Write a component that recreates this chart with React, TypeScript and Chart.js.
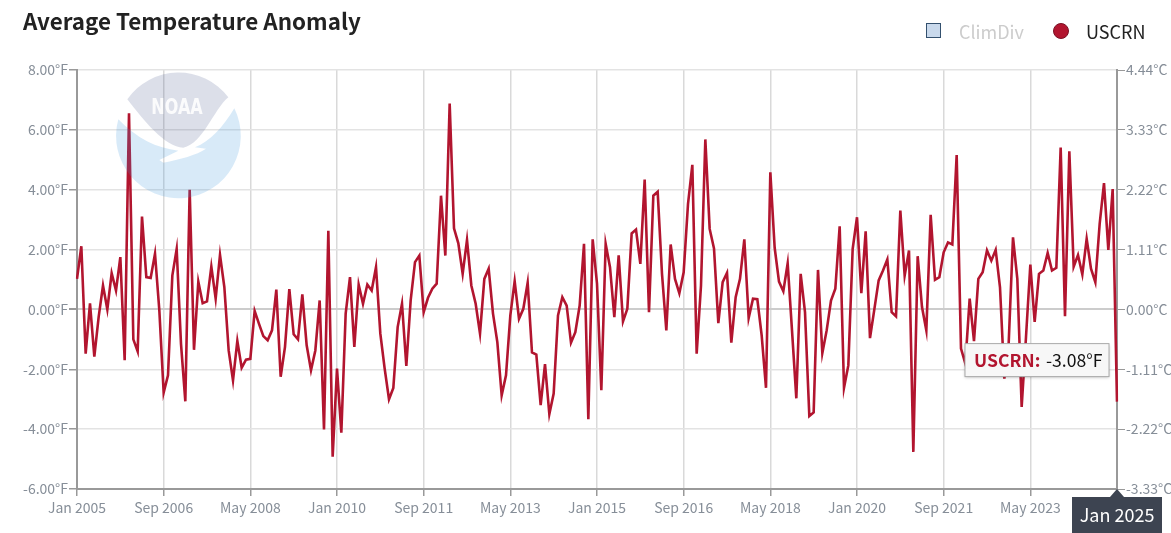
import { useEffect, useRef } from "react"
import { Chart, registerables } from "chart.js"

Chart.register(...registerables)

const FONT = '"Noto Sans CJK SC", "Noto Sans", sans-serif'
const months = ["Jan", "Feb", "Mar", "Apr", "May", "Jun", "Jul", "Aug", "Sep", "Oct", "Nov", "Dec"]
const years = [2005, 2006, 2007, 2008, 2009, 2010, 2011, 2012, 2013, 2014, 2015, 2016, 2017, 2018, 2019, 2020, 2021, 2022, 2023, 2024]
const categories = [...years.flatMap((y) => months.map((m) => `${m} ${y}`)), "Jan 2025"]

const uscrn = [
  1.02, 2.11, -1.48, 0.2, -1.58, -0.25, 0.8, 0.0, 1.21, 0.63, 1.75, -1.7,
  6.55, -1.0, -1.4, 3.1, 1.08, 1.05, 1.86, -0.03, -2.78, -2.2, 1.13, 2.02,
  -1.15, -3.07, 4.0, -1.35, 0.93, 0.21, 0.27, 1.43, 0.36, 1.82, 0.75, -1.37,
  -2.37, -1.05, -1.95, -1.68, -1.65, -0.05, -0.48, -0.89, -1.03, -0.7, 0.66, -2.25,
  -1.25, 0.68, -0.83, -1.0, 0.5, -1.2, -2.03, -1.37, 0.3, -4.01, 2.63, -4.92,
  -1.98, -4.12, -0.14, 1.08, -1.25, 0.83, 0.19, 0.83, 0.63, 1.41, -0.81, -1.98,
  -3.0, -2.62, -0.59, 0.19, -1.89, 0.3, 1.58, 1.8, -0.09, 0.39, 0.69, 0.86,
  3.8, 1.8, 6.88, 2.71, 2.21, 1.19, 2.32, 0.8, 0.19, -0.81, 1.02, 1.36,
  -0.14, -1.09, -2.87, -2.2, -0.2, 0.94, -0.31, 0.02, 0.89, -1.44, -1.51, -3.2,
  -1.83, -3.5, -2.81, -0.2, 0.41, 0.13, -1.11, -0.76, 0.13, 2.19, -3.67, 2.34,
  0.86, -2.7, 2.19, 1.41, -0.26, 1.81, -0.4, 0.02, 2.54, 2.67, 1.52, 4.34,
  -0.09, 3.8, 3.93, 1.19, -0.7, 2.17, 1.02, 0.54, 1.24, 3.52, 4.83, -1.48,
  0.8, 5.68, 2.69, 2.04, -0.46, 0.91, 1.22, -1.11, 0.41, 1.02, 2.34, -0.29,
  0.36, 0.34, -0.87, -2.62, 4.58, 2.06, 0.93, 0.61, 1.54, -0.7, -2.97, 1.19,
  -0.09, -3.56, -3.44, 1.32, -1.46, -0.7, 0.3, 0.69, 2.78, -2.62, -1.87, 2.02,
  3.08, 0.54, 2.61, -0.96, 0.0, 0.97, 1.3, 1.67, -0.09, -0.23, 3.3, 1.13,
  1.97, -4.76, 1.78, 0.08, -0.7, 3.16, 0.99, 1.08, 1.91, 2.24, 2.17, 5.16,
  -1.31, -1.81, 0.36, -1.06, 1.02, 1.24, 1.97, 1.63, 1.99, 0.74, -2.31, -1.14,
  2.41, 1.02, -3.26, -0.92, 1.5, -0.42, 1.19, 1.3, 1.89, 1.3, 1.39, 5.41,
  -0.23, 5.28, 1.43, 1.82, 1.17, 2.36, 1.36, 0.91, 2.86, 4.22, 1.99, 4.02, -3.08,
]

const RED = "#b2152f"
const AXIS = "#999999"
const LABEL = "#868e98"

// hover-style readout for the last month, placed from the scales
const readout = {
  id: "readout",
  afterDraw(chart: Chart) {
    const { ctx, scales } = chart
    const i = uscrn.length - 1
    const px = scales.x.getPixelForValue(i)
    const py = scales.y.getPixelForValue(uscrn[i])
    ctx.save()

    // x axis label
    const bottom = scales.y.bottom
    ctx.fillStyle = "#3d4451"
    ctx.beginPath()
    ctx.moveTo(px, bottom)
    ctx.lineTo(px + 7, bottom + 8)
    ctx.lineTo(px + 45, bottom + 8)
    ctx.lineTo(px + 45, chart.height)
    ctx.lineTo(px - 45, chart.height)
    ctx.lineTo(px - 45, bottom + 8)
    ctx.lineTo(px - 7, bottom + 8)
    ctx.closePath()
    ctx.fill()
    ctx.fillStyle = "#ffffff"
    ctx.font = `18px ${FONT}`
    ctx.textAlign = "center"
    ctx.textBaseline = "middle"
    ctx.fillText(categories[i], px, bottom + 26)

    // tooltip box
    const bx = px - 152
    const by = py - 58
    ctx.shadowColor = "rgba(0,0,0,0.25)"
    ctx.shadowBlur = 3
    ctx.shadowOffsetY = 1
    ctx.fillStyle = "#f7f7f7"
    ctx.fillRect(bx, by, 144, 33)
    ctx.shadowColor = "transparent"
    ctx.strokeStyle = "#aaaaaa"
    ctx.lineWidth = 1
    ctx.strokeRect(bx, by, 144, 33)

    ctx.textAlign = "left"
    ctx.fillStyle = RED
    ctx.font = `bold 17.6px ${FONT}`
    ctx.fillText("USCRN:", bx + 9, by + 17)
    ctx.fillStyle = "#111111"
    ctx.font = `17.6px ${FONT}`
    ctx.fillText(`${uscrn[i].toFixed(2)}°F`, bx + 81, by + 17)
    ctx.restore()
  },
}

function Logo() {
  return (
    <svg
      viewBox="0 0 480 450"
      style={{ position: "absolute", left: 100, top: 60, width: 160, height: 150, pointerEvents: "none" }}
    >
      <path
        d="M55 178 A187 187 0 1 0 403 145 C370 200 330 245 285 262 L318 266 C290 285 240 298 190 308 L178 300 L235 272 C170 265 110 235 55 178 Z"
        fill="rgba(60,150,220,0.2)"
      />
      <path
        d="M82 118 A187 187 0 0 1 385 112 C340 150 310 250 250 263 C195 262 130 180 82 118 Z"
        fill="rgba(40,55,120,0.16)"
      />
      <text
        x="231"
        y="162"
        textAnchor="middle"
        textLength="154"
        lengthAdjust="spacingAndGlyphs"
        fontFamily="DejaVu Sans"
        fontWeight="bold"
        fontSize="66"
        fill="rgba(255,255,255,0.9)"
      >
        NOAA
      </text>
    </svg>
  )
}

export default function App() {
  const canvasRef = useRef<HTMLCanvasElement>(null)

  useEffect(() => {
    if (!canvasRef.current) return
    const tickFont = { family: FONT, size: 14 }

    const chart = new Chart(canvasRef.current, {
      type: "line",
      data: {
        labels: categories,
        datasets: [
          {
            label: "USCRN",
            data: uscrn,
            borderColor: RED,
            borderWidth: 2.6,
            pointRadius: 0,
            tension: 0,
            yAxisID: "y",
          },
        ],
      },
      options: {
        animation: false,
        responsive: true,
        maintainAspectRatio: false,
        layout: { padding: { top: 70, left: 0, right: 0, bottom: 0 } },
        plugins: { legend: { display: false }, tooltip: { enabled: false } },
        scales: {
          x: {
            type: "category",
            afterBuildTicks: (axis) => {
              axis.ticks = axis.ticks.filter((t) => t.value % 20 === 0)
            },
            afterFit: (axis) => {
              axis.height = 44
            },
            ticks: {
              autoSkip: false,
              maxRotation: 0,
              color: LABEL,
              font: tickFont,
              padding: 3,
              callback: (v) => (Number(v) === 240 ? "" : categories[Number(v)]),
            },
            grid: { color: "#d9d9d9", lineWidth: 1.5, tickColor: AXIS, tickLength: 7 },
            border: { color: AXIS, width: 2 },
          },
          y: {
            min: -6,
            max: 8,
            afterFit: (axis) => {
              axis.width = 77
            },
            ticks: {
              stepSize: 2,
              color: LABEL,
              font: tickFont,
              padding: 1,
              callback: (v) => `${Number(v).toFixed(2)}°F`,
            },
            grid: {
              color: (c) => (c.tick.value === 0 ? "#cccccc" : "#e3e3e3"),
              lineWidth: (c) => (c.tick.value === 0 ? 2 : 1.5),
              tickColor: AXIS,
              tickLength: 8,
            },
            border: { color: AXIS, width: 2 },
          },
          y2: {
            position: "right",
            min: -6,
            max: 8,
            afterFit: (axis) => {
              axis.width = 54
            },
            ticks: {
              stepSize: 2,
              color: LABEL,
              font: tickFont,
              padding: 1,
              callback: (v) => `${((Number(v) * 5) / 9).toFixed(2)}°C`,
            },
            grid: { drawOnChartArea: false, tickColor: AXIS, tickLength: 8 },
            border: { color: AXIS, width: 2 },
          },
        },
      },
      plugins: [readout],
    })

    return () => chart.destroy()
  }, [])

  return (
    <div style={{ position: "absolute", left: 0, top: 0, width: 1171, height: 533, fontFamily: FONT, background: "#fff" }}>
      <canvas ref={canvasRef} />
      <Logo />
      <div style={{ position: "absolute", left: 23, top: 4, fontSize: 22.4, fontWeight: 700, color: "#222", lineHeight: "32px", whiteSpace: "nowrap" }}>
        Average Temperature Anomaly
      </div>
      <div style={{ position: "absolute", left: 926, top: 23, width: 15, height: 15, boxSizing: "border-box", background: "#c9d9ec", border: "1.5px solid #33506e" }} />
      <div style={{ position: "absolute", left: 959, top: 17, fontSize: 18, lineHeight: "28px", color: "#cccccc" }}>ClimDiv</div>
      <div style={{ position: "absolute", left: 1053, top: 23, width: 16, height: 16, boxSizing: "border-box", borderRadius: "50%", background: RED, border: "1px solid #7a1024" }} />
      <div style={{ position: "absolute", left: 1086, top: 17, fontSize: 18, lineHeight: "28px", color: "#222" }}>USCRN</div>
    </div>
  )
}
